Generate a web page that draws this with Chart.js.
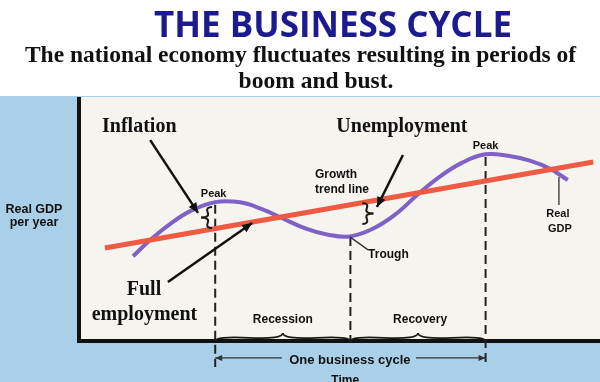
<!DOCTYPE html>
<html>
<head>
<meta charset="utf-8">
<title>The Business Cycle</title>
<script src="https://cdn.jsdelivr.net/npm/chart.js@4.4.1/dist/chart.umd.min.js"></script>
<style>
html, body { margin: 0; padding: 0; background: #fff; }
canvas { display: block; }
</style>
</head>
<body>
<canvas id="canvas" width="600" height="382"></canvas>
<script>
// time runs 0-100 across the white panel, GDP level 0-100 up it
var gdpTime  = [10.2, 13.5, 17.3, 21.2, 26.0, 30.8, 35.0, 38.8, 43.3, 47.7, 51.9, 56.2, 60.6, 65.0, 69.2, 73.5, 77.9, 82.3, 86.5, 90.4, 93.8];
var gdpLevel = [35.0, 41.6, 48.1, 53.4, 57.1, 57.0, 54.2, 50.6, 46.4, 43.8, 43.1, 46.1, 52.0, 60.3, 67.5, 73.2, 76.6, 76.0, 74.0, 70.7, 66.1];
var trendTime  = [4.8, 98.7];
var trendLevel = [38.4, 73.5];
// peak, trough, peak
var turnTime  = [26, 52, 78];
var turnTop   = [56.0, 42.9, 75.5];
var turnFloor = [-10.2, 0, -10.2];

var serifNotes = [
    ['Inflation', 11.4, 85.7],
    ['Unemployment', 61.9, 85.7],
    ['Full', 12.3, 19.2],
    ['employment', 12.4, 9.0]
];
var sansNotes = [
    ['Peak', 25.7, 59.3, 11, 'center'],
    ['Peak', 78.0, 78.8, 11, 'center'],
    ['Growth', 45.2, 66.9, 12, 'left'],
    ['trend line', 45.2, 60.8, 12, 'left'],
    ['Trough', 55.4, 34.3, 12, 'left'],
    ['Real', 91.9, 51.0, 11, 'center'],
    ['GDP', 92.3, 44.9, 11, 'center'],
    ['Real GDP', -8.85, 52.7, 12.5, 'center'],
    ['per year', -8.85, 47.3, 12.5, 'center'],
    ['Recession', 39.0, 7.8, 12, 'center'],
    ['Recovery', 65.4, 7.8, 12, 'center'],
    ['One business cycle', 51.9, -9.0, 13, 'center'],
    ['Time', 51.0, -17.1, 12, 'center']
];
// [x1, y1, x2, y2, heavy?, head?]
var pointers = [
    [13.5, 82.4, 22.7, 52.7, true, true],
    [62.1, 76.3, 57.1, 55.1, true, true],
    [16.9, 24.5, 33.1, 48.6, true, true],
    [51.9, 42.9, 55.4, 37.6, false, false],
    [92.1, 67.3, 92.1, 55.9, false, false],
    [38.8, -6.5, 26.0, -6.5, false, true],
    [64.6, -6.5, 78.0, -6.5, false, true]
];
// [x1, y1, x2, y2, side]
var braces = [
    [25.4, 55.1, 25.4, 46.5, 'left'],
    [54.3, 56.7, 54.3, 48.2, 'right'],
    [26.0, 0.4, 52.0, 0.4, 'up'],
    [52.0, 0.4, 78.0, 0.4, 'up']
];

function pts(xs, ys) {
    return xs.map(function(x, i) { return {x: x, y: ys[i]}; });
}

var datasets = [
    {
        label: 'Growth trend line',
        data: pts(trendTime, trendLevel),
        borderColor: '#ef5a43',
        borderWidth: 5,
        pointRadius: 0,
        order: 1
    },
    {
        label: 'Real GDP',
        data: pts(gdpTime, gdpLevel),
        borderColor: '#7e62c6',
        borderWidth: 4,
        pointRadius: 0,
        tension: 0.4,
        order: 2
    }
];
turnTime.forEach(function(t, i) {
    datasets.push({
        label: 'turn ' + i,
        data: [{x: t, y: turnTop[i]}, {x: t, y: turnFloor[i]}],
        borderColor: '#222',
        borderWidth: 2,
        borderDash: [9, 5],
        pointRadius: 0,
        clip: false,
        order: 3
    });
});

function drawHead(c, x1, y1, x2, y2, len, half) {
    var a = Math.atan2(y2 - y1, x2 - x1);
    c.beginPath();
    c.moveTo(x2, y2);
    c.lineTo(x2 - len * Math.cos(a) + half * Math.sin(a), y2 - len * Math.sin(a) - half * Math.cos(a));
    c.lineTo(x2 - len * Math.cos(a) - half * Math.sin(a), y2 - len * Math.sin(a) + half * Math.cos(a));
    c.closePath();
    c.fill();
}

function drawBrace(c, x1, y1, x2, y2, nx, ny, w) {
    var L = Math.hypot(x2 - x1, y2 - y1);
    var dx = (x2 - x1) / L, dy = (y2 - y1) / L;
    var q = 0.6;
    var tipx = x1 + dx * L / 2 + nx * w, tipy = y1 + dy * L / 2 + ny * w;
    [[x1, y1, 1], [x2, y2, -1]].forEach(function(p) {
        var sx = p[0], sy = p[1], s = p[2];
        var c1x = sx + nx * q * w, c1y = sy + ny * q * w;
        var mx = sx + s * dx * L / 4 + nx * (1 - q) * w, my = sy + s * dy * L / 4 + ny * (1 - q) * w;
        var c2x = 2 * mx - c1x, c2y = 2 * my - c1y;
        c.beginPath();
        c.moveTo(sx, sy);
        c.quadraticCurveTo(c1x, c1y, mx, my);
        c.quadraticCurveTo(c2x, c2y, tipx, tipy);
        c.stroke();
    });
}

var sketch = {
    id: 'sketch',
    beforeDraw: function(chart) {
        var c = chart.ctx, a = chart.chartArea;
        c.save();
        c.fillStyle = '#fff';
        c.fillRect(0, 0, chart.width, chart.height);
        c.fillStyle = '#a9d0e8';
        c.fillRect(0, 96, chart.width, chart.height - 96);
        c.fillStyle = '#f6f4ee';
        c.fillRect(a.left, a.top, a.right - a.left, a.bottom - a.top);

        c.textAlign = 'center';
        c.textBaseline = 'alphabetic';
        c.fillStyle = '#1b1b8f';
        c.font = 'bold 35px "Open Sans"';
        c.fillText('THE BUSINESS CYCLE', 333, 37, 360);
        c.fillStyle = '#111';
        c.font = 'bold 23.5px "Liberation Serif"';
        c.fillText('The national economy fluctuates resulting in periods of', 300.5, 62, 556);
        c.fillText('boom and bust.', 316, 88);
        c.restore();
    },
    beforeDatasetsDraw: function(chart) {
        var c = chart.ctx, a = chart.chartArea;
        c.save();
        c.strokeStyle = '#111';
        c.lineWidth = 4;
        c.beginPath();
        c.moveTo(a.left - 1, a.top);
        c.lineTo(a.left - 1, a.bottom - 1);
        c.lineTo(a.right, a.bottom - 1);
        c.stroke();
        c.restore();
    },
    afterDatasetsDraw: function(chart) {
        var c = chart.ctx;
        var X = function(v) { return chart.scales.x.getPixelForValue(v); };
        var Y = function(v) { return chart.scales.y.getPixelForValue(v); };
        c.save();
        c.fillStyle = '#111';
        c.strokeStyle = '#111';
        c.textBaseline = 'alphabetic';

        serifNotes.forEach(function(n) {
            c.font = 'bold 20px "Liberation Serif"';
            c.textAlign = 'center';
            c.fillText(n[0], X(n[1]), Y(n[2]));
        });
        sansNotes.forEach(function(n) {
            c.font = 'bold ' + n[3] + 'px "Liberation Sans"';
            c.textAlign = n[4];
            c.fillText(n[0], X(n[1]), Y(n[2]));
        });

        pointers.forEach(function(p) {
            var x1 = X(p[0]), y1 = Y(p[1]), x2 = X(p[2]), y2 = Y(p[3]);
            c.lineWidth = p[4] ? 2.5 : 1.3;
            c.strokeStyle = p[4] ? '#111' : '#333';
            c.fillStyle = c.strokeStyle;
            c.beginPath();
            c.moveTo(x1, y1);
            c.lineTo(x2, y2);
            c.stroke();
            if (p[5]) {
                if (p[4]) drawHead(c, x1, y1, x2, y2, 10, 4.5);
                else drawHead(c, x1, y1, x2, y2, 7, 3);
            }
        });

        c.strokeStyle = '#1a1a1a';
        braces.forEach(function(b) {
            var nx = 0, ny = 0, w = 11;
            c.lineWidth = 2;
            if (b[4] === 'left') nx = -1;
            if (b[4] === 'right') nx = 1;
            if (b[4] === 'up') { ny = -1; w = 8; c.lineWidth = 1.8; }
            drawBrace(c, X(b[0]), Y(b[1]), X(b[2]), Y(b[3]), nx, ny, w);
        });
        c.restore();
    }
};

var config = {
    type: 'line',
    data: { datasets: datasets },
    options: {
        responsive: false,
        animation: false,
        devicePixelRatio: 1,
        layout: { padding: { left: 80, top: 97, right: 0, bottom: 40 } },
        scales: {
            x: { type: 'linear', min: 0, max: 100, display: false },
            y: { type: 'linear', min: 0, max: 100, display: false }
        },
        plugins: {
            legend: { display: false },
            tooltip: { enabled: false }
        }
    },
    plugins: [sketch]
};

window.onload = function() {
    var ctx = document.getElementById('canvas').getContext('2d');
    window.myLine = new Chart(ctx, config);
};
</script>
</body>
</html>
